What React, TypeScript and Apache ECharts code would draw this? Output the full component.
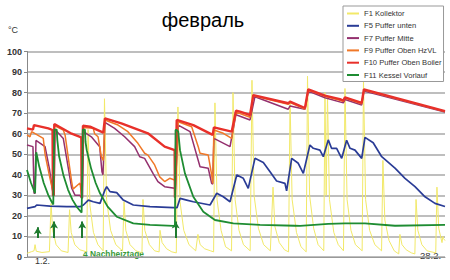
import React, { useEffect, useRef } from "react";
import * as echarts from "echarts";

// x = days since 1.2. 00:00, y = °C
const titleText = "февраль";
const yTicks = [0, 10, 20, 30, 40, 50, 60, 70, 80, 90, 100];
const seriesNames = [
  "F1 Kollektor",
  "F5 Puffer unten",
  "F7 Puffer Mitte",
  "F9 Puffer Oben HzVL",
  "F10 Puffer Oben Boiler",
  "F11 Kessel Vorlauf",
];

const f1Kollektor: [number, number][] = [
  [0, 1.8], [0.3, 2.6], [0.47, 3], [0.54, 6], [0.62, 2.8], [1.0, 2.2], [1.5, 2.6],
  [1.61, 26], [1.72, 13], [1.95, 6], [2.3, 3], [2.75, 2.2],
  [2.85, 23], [2.96, 12], [3.2, 6], [3.55, 3.5], [4.0, 2.5],
  [4.09, 62], [4.22, 25], [4.45, 12], [4.75, 6], [5.1, 3],
  [5.19, 77], [5.33, 28], [5.6, 13], [5.95, 6], [6.4, 3],
  [6.5, 27], [6.62, 13], [6.9, 6], [7.3, 3], [7.7, 2],
  [7.77, 28], [7.89, 13], [8.2, 6], [8.55, 3], [8.85, 2.5],
  [8.91, 13], [9.05, 7], [9.35, 4], [9.7, 2.5], [10.0, 2],
  [10.11, 73], [10.25, 27], [10.5, 13], [10.85, 6], [11.3, 3],
  [11.45, 11], [11.6, 6], [11.9, 4], [12.3, 3], [12.5, 2.5],
  [12.59, 75], [12.73, 28], [13.0, 13], [13.3, 5], [13.7, 3],
  [13.8, 80], [13.94, 28], [14.2, 13], [14.5, 6], [14.95, 3],
  [15.07, 86], [15.21, 30], [15.5, 14], [15.85, 6], [16.3, 3],
  [16.48, 34], [16.6, 15], [16.9, 7], [17.25, 3.5], [17.52, 2.5],
  [17.62, 76], [17.76, 28], [18.05, 12], [18.35, 5], [18.7, 2.5],
  [18.79, 88], [18.93, 30], [19.2, 14], [19.5, 6], [19.88, 3],
  [19.96, 80], [20.04, 30], [20.13, 78], [20.26, 28], [20.55, 12], [20.85, 6], [21.2, 3],
  [21.3, 82], [21.44, 28], [21.7, 13], [22.0, 6], [22.45, 3],
  [22.54, 86], [22.68, 28], [22.95, 13], [23.3, 6], [23.75, 3],
  [23.84, 47], [23.97, 18], [24.25, 8], [24.6, 3], [24.9, 1.5],
  [24.98, 11], [25.12, 6], [25.4, 3.5], [25.75, 2], [25.98, 1.5],
  [26.06, 28], [26.18, 13], [26.45, 6], [26.8, 3], [27.38, 2],
  [27.46, 34], [27.58, 14], [27.8, 7], [27.86, 10], [27.9, 9], [28, 8],
];

const f5PufferUnten: [number, number][] = [
  [0, 23.7], [0.54, 24.5], [0.65, 25.3], [1.54, 24.8], [2.66, 24.5], [3.55, 24.5],
  [3.78, 25.3], [4.11, 27.7], [4.44, 26.9], [4.89, 26.1], [5.22, 32.6], [5.34, 34.2],
  [5.56, 31.8], [6.01, 31.3], [6.45, 27.7], [7.12, 25.3], [8.24, 24.5], [9.8, 24],
  [10.05, 24], [10.25, 28.5], [10.7, 27.7], [11.14, 26.9], [12.26, 25.3], [12.71, 31],
  [13.15, 29.3], [13.6, 26.9], [14.05, 39.9], [14.49, 38.3], [14.82, 33.4], [15.27, 48],
  [15.83, 46], [16.28, 41.5], [16.72, 37], [17.28, 35.8], [17.39, 32.2], [17.73, 48],
  [18.17, 45.6], [18.51, 40.7], [18.95, 54.5], [19.18, 52.9], [19.62, 52], [19.85, 48.8],
  [20.18, 57], [20.4, 52.9], [20.74, 52.9], [21.08, 48], [21.41, 56.8], [21.64, 52.9],
  [21.97, 52], [22.42, 48], [22.64, 58.2], [23.19, 55.6], [23.76, 48.8], [24.65, 43.2],
  [25.32, 38.3], [25.99, 34.2], [26.66, 29.3], [27.33, 26.1], [28, 24.6],
];

const f7PufferMitte: [number, number][] = [
  [0, 54.5], [0.4, 53.7], [0.47, 31], [0.54, 31], [0.6, 56.7], [1.21, 53.7], [1.5, 43],
  [1.76, 30], [1.81, 30], [1.88, 62], [2.43, 57.7], [2.99, 33.6], [3.22, 30], [3.55, 30],
  [3.66, 28.7], [3.72, 28.7], [3.79, 61], [4.31, 58.5], [4.87, 53.7], [5.02, 41.5],
  [5.09, 40], [5.22, 65.5], [5.87, 62.6], [6.54, 58.5], [7.21, 53.7], [7.55, 48.8],
  [7.88, 48], [8.44, 40.7], [8.77, 36.7], [9.22, 34.2], [9.89, 33.4], [9.91, 29],
  [9.95, 29], [10.13, 64.2], [10.92, 61], [11.59, 43.9], [12.14, 43.2], [12.37, 35.8],
  [12.44, 35.5], [12.52, 57.7], [13.6, 53.7], [14.0, 69.5], [14.05, 69.1], [14.94, 66.7],
  [15.27, 78], [17.5, 71.9], [17.62, 73.5], [18.62, 71.9], [18.84, 80.8], [19.96, 77.5],
  [21.19, 75], [21.3, 76.6], [22.42, 74], [22.57, 80.8], [28, 70.5],
];

const f9PufferObenHzVL: [number, number][] = [
  [0, 59.4], [0.2, 58.5], [0.31, 61], [1.09, 57.7], [1.21, 50], [1.54, 38.3], [1.74, 31.8],
  [1.79, 31], [1.83, 64], [2.43, 61.8], [2.55, 59.4], [2.99, 36.7], [3.08, 33], [3.55, 36],
  [3.66, 30], [3.7, 30], [3.75, 63], [4.44, 62.6], [4.53, 60], [4.76, 58.5], [4.98, 48.8],
  [5.11, 47], [5.22, 66.7], [6.1, 64.2], [6.76, 61], [7.43, 55.3], [7.88, 50.5], [8.1, 49.6],
  [8.55, 44.8], [8.89, 39], [9.22, 36.7], [9.56, 38.3], [9.89, 37.5], [9.91, 29], [9.95, 29],
  [10.13, 65.8], [11.03, 63.4], [11.47, 53.7], [11.59, 50.5], [12.14, 49.6], [12.37, 40],
  [12.44, 35.8], [12.52, 61.8], [13.15, 60.2], [13.71, 57.7], [14.0, 70.5], [14.94, 68],
  [15.16, 78.5], [17.5, 74.3], [17.62, 75.2], [18.62, 72], [18.84, 81.3], [19.96, 78.2],
  [21.19, 75.8], [21.3, 77.3], [22.42, 74.6], [22.57, 81.2], [28, 70.8],
];

const f10PufferObenBoiler: [number, number][] = [
  [0, 62.6], [0.4, 62], [0.47, 64.2], [1.43, 62.6], [1.71, 61.8], [1.74, 30], [1.79, 30],
  [1.83, 64.7], [2.99, 60], [3.55, 58.5], [3.64, 58], [3.66, 29], [3.7, 29], [3.75, 63.9],
  [4.22, 63.4], [5.11, 60.5], [5.22, 67.5], [6.32, 65], [8.1, 60.2], [9.22, 53.7],
  [9.89, 52], [9.91, 29], [9.95, 29], [10.03, 66.7], [11.14, 64.2], [12.44, 59.4],
  [12.52, 63.1], [13.71, 61], [14.0, 71.2], [14.27, 70.7], [14.94, 69.1], [15.16, 78.8],
  [17.5, 74.8], [17.62, 75.6], [18.62, 72.5], [18.84, 81.6], [19.96, 78.5], [20.96, 76.8],
  [21.19, 76.1], [21.3, 77.7], [22.42, 75], [22.57, 81.6], [28, 71],
];

const f11KesselVorlauf: [number, number][] = [
  [0, 42.3], [0.27, 36], [0.54, 31], [0.58, 31], [0.62, 51], [0.82, 44], [1.12, 36],
  [1.42, 30.2], [1.64, 27], [1.76, 25.5], [1.79, 25.5], [1.83, 62], [1.99, 62], [2.03, 57],
  [2.15, 49], [2.45, 39.5], [2.75, 32.7], [3.05, 27.8], [3.35, 24.2], [3.66, 21.6],
  [3.7, 21.6], [3.74, 62], [3.88, 62], [3.92, 56], [4.0, 52], [4.3, 42.9], [4.6, 36],
  [4.89, 31], [5.4, 24.5], [6.01, 19.6], [7.12, 16.4], [8.24, 15.6], [9.8, 15.1],
  [9.91, 15], [9.95, 61.8], [10.03, 61.8], [10.13, 61], [10.25, 52], [10.58, 40.7],
  [11.14, 29.3], [11.81, 22], [12.59, 18], [13.82, 16.4], [15.61, 15.6], [17.95, 15.2],
  [18.29, 15.1], [20.18, 16.1], [21.3, 16.4], [22.64, 16.4], [24.65, 15.2], [28, 15.6],
];

// heating-day arrows: x (day), from °C, to °C
const arrowX = [0.72, 1.81, 3.7, 9.96];
const arrowFrom = [9.2, 9.2, 9.2, 9.2];
const arrowTo = [14.5, 17.3, 17.3, 17.3];

const colors = ["#f2e968", "#2a3c96", "#94306e", "#f07828", "#e8302a", "#1e8c32"];
const widths = [1, 1.7, 1.5, 1.5, 2.4, 1.8];
const seriesData = [
  f1Kollektor,
  f5PufferUnten,
  f7PufferMitte,
  f9PufferObenHzVL,
  f10PufferObenBoiler,
  f11KesselVorlauf,
];

export default function App() {
  const ref = useRef<HTMLDivElement>(null);
  useEffect(() => {
    document.body.style.margin = "0";
    if (!ref.current) return;
    const chart = echarts.init(ref.current, null, { renderer: "svg" });
    const font = "'Liberation Sans', Arial, sans-serif";
    const series: any[] = seriesData.map((d, i) => ({
      name: seriesNames[i],
      type: "line",
      data: d,
      symbol: "none",
      showSymbol: false,
      lineStyle: { color: colors[i], width: widths[i] },
      itemStyle: { color: colors[i] },
      z: 2 + i,
    }));
    series[5].markLine = {
      silent: true,
      symbol: ["none", "arrow"],
      symbolSize: [6, 7],
      label: { show: false },
      lineStyle: { color: "#1e7a2e", width: 2, type: "solid" },
      data: arrowX.map((x, i) => [
        { coord: [x, arrowFrom[i]] },
        { coord: [x, arrowTo[i]] },
      ]),
    };
    chart.setOption({
      animation: false,
      backgroundColor: "#ffffff",
      textStyle: { fontFamily: font },
      title: {
        text: titleText,
        left: 198,
        top: 5,
        textAlign: "center",
        textStyle: { fontSize: 20, fontWeight: "normal", color: "#000", fontFamily: font },
      },
      legend: {
        orient: "vertical",
        left: 343,
        top: 6,
        icon: "rect",
        itemWidth: 12,
        itemHeight: 2,
        itemGap: 2.3,
        padding: [2.5, 2, 1.5, 4],
        backgroundColor: "#fff",
        borderColor: "#999",
        borderWidth: 1,
        borderRadius: 0,
        textStyle: { fontSize: 7.6, color: "#333", lineHeight: 10, fontFamily: font },
        data: seriesNames,
      },
      grid: { left: 27, right: 5, top: 51.5, bottom: 23, containLabel: false },
      xAxis: {
        type: "value",
        min: 0,
        max: 28,
        axisLine: { show: true, lineStyle: { color: "#999", width: 1 } },
        axisTick: { show: false },
        axisLabel: { show: false },
        splitLine: { show: false },
      },
      yAxis: {
        type: "value",
        min: yTicks[0],
        max: yTicks[yTicks.length - 1],
        interval: 10,
        axisLine: { show: true, lineStyle: { color: "#888", width: 1 } },
        axisTick: { show: true, length: 3, lineStyle: { color: "#888" } },
        axisLabel: { fontSize: 9, fontWeight: "bold", color: "#333", margin: 5, fontFamily: font },
        splitLine: { lineStyle: { color: "#a8a8a8", width: 1.5 } },
      },
      graphic: [
        { type: "text", left: 8, top: 25, style: { text: "°C", fontSize: 9, fill: "#333", fontFamily: font } },
        { type: "text", left: 35, top: 256, style: { text: "1.2.", fontSize: 9, fill: "#333", fontFamily: font } },
        { type: "text", left: 420, top: 250, style: { text: "28.2.", fontSize: 9.5, fill: "#333", fontFamily: font } },
        {
          type: "text",
          left: 83,
          top: 250,
          style: { text: "4 Nachheiztage", fontSize: 8.4, fontWeight: "bold", fill: "#3a9a3a", fontFamily: font },
        },
      ],
      series,
    });
    return () => chart.dispose();
  }, []);
  return (
    <div
      ref={ref}
      style={{ width: 450, height: 280, position: "fixed", left: 0, top: 0 }}
    />
  );
}
